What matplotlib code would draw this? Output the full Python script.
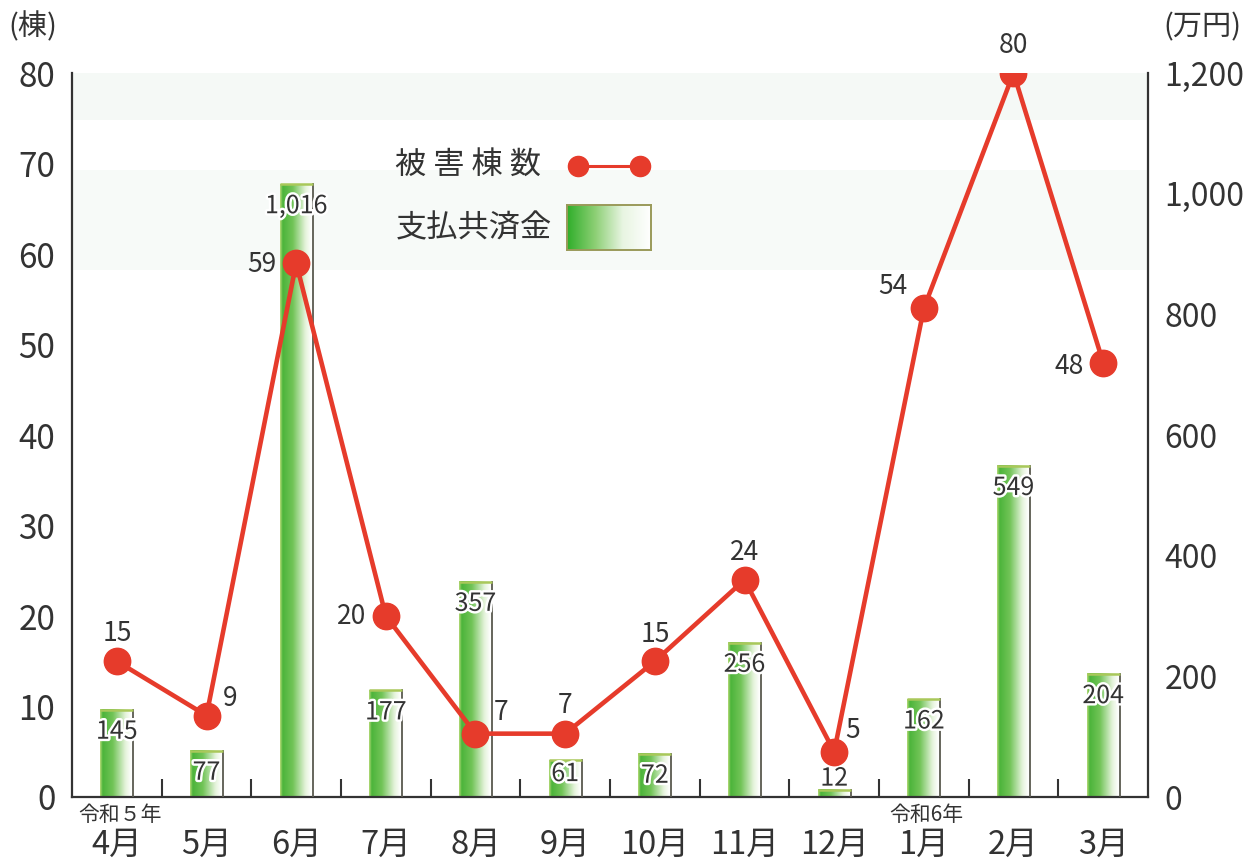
import numpy as np
import matplotlib
matplotlib.use("Agg")
import matplotlib.pyplot as plt
from matplotlib.colors import LinearSegmentedColormap
from matplotlib.lines import Line2D
import matplotlib.patheffects as pe

plt.rcParams['font.family'] = ['Noto Sans CJK JP', 'DejaVu Sans']

# ---- data ----
months = ['4月', '5月', '6月', '7月', '8月', '9月', '10月', '11月', '12月', '1月', '2月', '3月']
damage_count = [15, 9, 59, 20, 7, 7, 15, 24, 5, 54, 80, 48]          # 被害棟数 (棟)
payment = [145, 77, 1016, 177, 357, 61, 72, 256, 12, 162, 549, 204]   # 支払共済金 (万円)
count_ticks = [0, 10, 20, 30, 40, 50, 60, 70, 80]
payment_ticks = [0, 200, 400, 600, 800, 1000, 1200]
era_labels = {0: '令和５年', 9: '令和6年'}

TXT = '#333333'
RED = '#e63b2b'
W, H = 1249, 864

fig = plt.figure(figsize=(W / 100, H / 100), dpi=100)
ax = fig.add_axes([72 / W, 1 - 797 / H, (1148 - 72) / W, (797 - 73) / H])
ax2 = ax.twinx()

x = np.arange(len(months))

# faint background tint (scan show-through)
ax.axhspan(1122, 1200, color='#f5f9f6', zorder=0, lw=0)
ax.axhspan(873, 1040, color='#f7faf8', zorder=0, lw=0)

# ---- gradient bars on the payment (right) scale ----
bar_cmap = LinearSegmentedColormap.from_list(
    'bar', [(0.0, '#b9dc7a'), (0.08, '#4cb43a'), (0.38, '#72c458'),
            (0.75, '#e4f3da'), (0.93, '#ffffff'), (1.0, '#f4f9ef')])
grad = np.linspace(0, 1, 256).reshape(1, -1)
bw = 0.37
for xi, v in zip(x, payment):
    ax.imshow(grad, cmap=bar_cmap, extent=[xi - bw / 2, xi + bw / 2, 0, v],
              aspect='auto', zorder=2, interpolation='bilinear')
    ax.plot([xi + bw / 2, xi + bw / 2], [0, v], color='#5a5a50', lw=1.3, zorder=3)
    ax.plot([xi - bw / 2, xi + bw / 2], [v, v], color='#a9c85a', lw=1.8, zorder=3,
            solid_capstyle='butt')

# bar value labels
for xi, v in zip(x, payment):
    if v < 30:
        dy = 8
    elif v < 70:
        dy = -10
    else:
        dy = -16
    ax.annotate(f'{v:,}', (xi, v), xytext=(0, dy), textcoords='offset points',
                ha='center', va='center', fontsize=18, color=TXT, zorder=4,
                path_effects=[pe.withStroke(linewidth=3.5, foreground='white')])

ax.set_xlim(-0.5, len(months) - 0.5)
ax.set_ylim(0, 1200)
ax.set_yticks(payment_ticks)
ax.set_yticklabels([f'{t:,}' for t in payment_ticks])
ax.yaxis.tick_right()
ax.tick_params(axis='y', length=0, pad=12, labelsize=23, labelcolor=TXT)

ax.set_xticks(x)
ax.set_xticklabels(months)
ax.tick_params(axis='x', which='major', length=0, pad=23, labelsize=23.5, labelcolor=TXT)
ax.set_xticks(x[:-1] + 0.5, minor=True)
ax.tick_params(axis='x', which='minor', direction='in', length=13, width=1.5, color=TXT)

for s in ['left', 'right', 'bottom']:
    ax.spines[s].set_color(TXT)
    ax.spines[s].set_linewidth(1.6)
ax.spines['top'].set_visible(False)

# ---- line on the count (left) scale ----
ax2.set_ylim(0, 80)
ax2.set_yticks(count_ticks)
ax2.yaxis.tick_left()
ax2.tick_params(axis='y', length=0, pad=12, labelsize=24, labelcolor=TXT)
for s in ax2.spines.values():
    s.set_visible(False)

ax2.plot(x, damage_count, color=RED, lw=3.3, marker='o', ms=19, zorder=5)

# count label offsets (points): (dx, dy, ha)
offs = [(0, 20, 'center'), (12, 12, 'left'), (-14, -1, 'right'), (-14, 0, 'right'),
        (13, 15, 'left'), (0, 20, 'center'), (0, 19, 'center'), (0, 20, 'center'),
        (8, 15, 'left'), (-12, 16, 'right'), (0, 20, 'center'), (-14, -3, 'right')]
for xi, v, (dx, dy, ha) in zip(x, damage_count, offs):
    ax2.annotate(str(v), (xi, v), xytext=(dx, dy), textcoords='offset points',
                 ha=ha, va='center', fontsize=19, color=TXT, zorder=6)

# era labels under the axis
for xi, lab in era_labels.items():
    ax.annotate(lab, (xi, 0), xytext=(2, -13), textcoords='offset points',
                ha='center', va='center', fontsize=15, color=TXT,
                annotation_clip=False)

# unit labels
fig.text(8 / W, 1 - 27 / H, '(棟)', ha='left', va='center', fontsize=21, color=TXT)
fig.text(1163 / W, 1 - 27 / H, '(万円)', ha='left', va='center', fontsize=21, color=TXT)

# ---- legend (drawn manually) ----
fig.text(395 / W, 1 - 165 / H, '被 害 棟 数', ha='left', va='center', fontsize=22.5, color=TXT)
fig.text(396 / W, 1 - 228 / H, '支払共済金', ha='left', va='center', fontsize=22.5, color=TXT)
fig.add_artist(Line2D([578 / W, 640 / W], [1 - 166 / H, 1 - 166 / H], color=RED, lw=2.2,
                      marker='o', ms=14.5, transform=fig.transFigure))
lax = fig.add_axes([567 / W, 1 - 250 / H, 84 / W, 45 / H])
leg_cmap = LinearSegmentedColormap.from_list('leg', ['#2fae2a', '#8ccf74', '#e8f5e2', '#ffffff'])
lax.imshow(grad, cmap=leg_cmap, aspect='auto', extent=[0, 1, 0, 1], interpolation='bilinear')
lax.set_xticks([])
lax.set_yticks([])
for s in lax.spines.values():
    s.set_color('#9a9a5a')
    s.set_linewidth(1.4)

fig.savefig('out.png', dpi=100)
